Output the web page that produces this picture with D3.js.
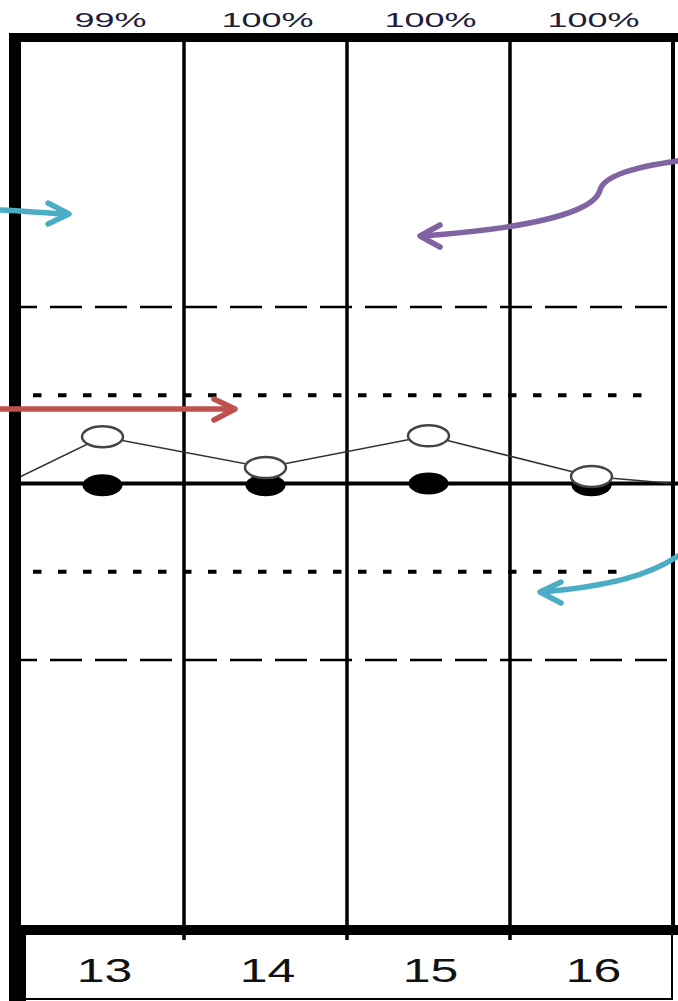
<!DOCTYPE html>
<html>
<head>
<meta charset="utf-8">
<script src="https://cdn.jsdelivr.net/npm/d3@7"></script>
<style>
  body { margin: 0; background: #fff; }
  svg { display: block; }
</style>
</head>
<body>
<svg id="chart"></svg>
<script>
// categories (12 and 17 lie just outside the visible crop)
const categories = [12, 13, 14, 15, 16, 17];
const shownCategories = [13, 14, 15, 16];
const pctLabels = ["99%", "100%", "100%", "100%"];
// values in standard-deviation units around the centre line
const openSeries = [-0.37, 0.53, 0.18, 0.54, 0.08, -0.08];
const filledSeries = [-0.02, -0.02, 0, -0.02];
const limits = [
  { v: 2, type: "dashed" }, { v: -2, type: "dashed" },
  { v: 1, type: "dotted" }, { v: -1, type: "dotted" }
];

const width = 678, height = 1001;
const plot = { left: 21, right: 673, top: 42, bottom: 925 };
const svg = d3.select("#chart").attr("width", width).attr("height", height);

const band = (plot.right - plot.left) / shownCategories.length;
const x = d3.scaleBand()
  .domain(categories)
  .range([plot.left - band, plot.right + band]);
const cx = d => x(d) + x.bandwidth() / 2;

const y = d3.scaleLinear().domain([-5, 5]).range([plot.bottom, plot.top]);

svg.append("defs").append("clipPath").attr("id", "plotClip")
  .append("rect")
  .attr("x", plot.left).attr("y", plot.top)
  .attr("width", plot.right - plot.left).attr("height", plot.bottom - plot.top);

// vertical category separators
svg.append("g")
  .selectAll("line")
  .data(shownCategories.slice(1))
  .join("line")
  .attr("x1", d => x(d)).attr("x2", d => x(d))
  .attr("y1", plot.top).attr("y2", 940)
  .attr("stroke", "#000").attr("stroke-width", 3.5);

// control / warning limits
svg.append("g")
  .selectAll("line")
  .data(limits)
  .join("line")
  .attr("x1", d => d.type === "dashed" ? plot.left : 33)
  .attr("x2", d => d.type === "dashed" ? plot.right : (d.v > 0 ? 656 : 630))
  .attr("y1", d => y(d.v)).attr("y2", d => y(d.v))
  .attr("stroke", "#000")
  .attr("stroke-width", d => d.type === "dashed" ? 2.5 : 4)
  .attr("stroke-dasharray", d => d.type === "dashed" ? "32,13" : "8.5,16.5")
  .attr("stroke-dashoffset", d => d.type === "dashed" ? 16 : 0);

// centre line
svg.append("line")
  .attr("x1", plot.left).attr("x2", width)
  .attr("y1", y(0)).attr("y2", y(0))
  .attr("stroke", "#000").attr("stroke-width", 4);

// filled series
svg.append("g")
  .selectAll("ellipse")
  .data(filledSeries)
  .join("ellipse")
  .attr("cx", (d, i) => cx(shownCategories[i]))
  .attr("cy", d => y(d))
  .attr("rx", 20).attr("ry", 11)
  .attr("fill", "#000");

// open series line
const line = d3.line()
  .x((d, i) => cx(categories[i]))
  .y(d => y(d));
svg.append("path")
  .datum(openSeries)
  .attr("clip-path", "url(#plotClip)")
  .attr("d", line)
  .attr("fill", "none")
  .attr("stroke", "#333")
  .attr("stroke-width", 1.5);

svg.append("g")
  .selectAll("ellipse")
  .data(openSeries.slice(1, 5))
  .join("ellipse")
  .attr("cx", (d, i) => cx(shownCategories[i]))
  .attr("cy", d => y(d))
  .attr("rx", 20.5).attr("ry", 10.5)
  .attr("fill", "#fff")
  .attr("stroke", "#444")
  .attr("stroke-width", 2.5);

// frame
svg.append("rect").attr("x", 9).attr("y", 33).attr("width", width - 9).attr("height", 9).attr("fill", "#000");
svg.append("rect").attr("x", 9).attr("y", 33).attr("width", 12).attr("height", height - 33).attr("fill", "#000");
svg.append("rect").attr("x", 9).attr("y", 935).attr("width", 17).attr("height", height - 935).attr("fill", "#000");
svg.append("rect").attr("x", 9).attr("y", plot.bottom).attr("width", width - 9).attr("height", 10).attr("fill", "#000");
svg.append("rect").attr("x", plot.right - 2).attr("y", plot.top).attr("width", 4).attr("height", plot.bottom - plot.top).attr("fill", "#000");
svg.append("rect").attr("x", 9).attr("y", 998).attr("width", plot.right - 9).attr("height", 2).attr("fill", "#000");
svg.append("rect").attr("x", plot.right - 2).attr("y", 935).attr("width", 2).attr("height", 65).attr("fill", "#000");

// tick labels (the source image is stretched sideways)
svg.append("g")
  .selectAll("text")
  .data(shownCategories)
  .join("text")
  .attr("transform", d => `translate(${cx(d) + 2},982) scale(1,0.67)`)
  .attr("text-anchor", "middle")
  .attr("font-family", "Liberation Sans, Arial, sans-serif")
  .attr("font-size", 50)
  .attr("fill", "#111")
  .text(d => d);

svg.append("g")
  .selectAll("text")
  .data(pctLabels)
  .join("text")
  .attr("transform", (d, i) => `translate(${cx(shownCategories[i]) + (i === 0 ? 8 : 2)},27) scale(1,0.58)`)
  .attr("text-anchor", "middle")
  .attr("font-family", "Liberation Sans, Arial, sans-serif")
  .attr("font-size", 36)
  .attr("fill", "#1e1e3c")
  .text(d => d);

// annotation arrows
const arrows = [
  { color: "#4bacc6", d: "M0,210 C25,211 45,213 67,214", tip: [69, 214], a1: [48, 203], a2: [48, 224] },
  { color: "#8064a2", d: "M678,161 C640,166 604,175 600,190 C596,206 560,226 422,236", tip: [420, 236], a1: [440, 225], a2: [440, 247] },
  { color: "#c0504d", d: "M0,409 L233,409", tip: [235, 409], a1: [214, 399], a2: [214, 420] },
  { color: "#4bacc6", d: "M678,556 C650,575 610,586 542,592", tip: [540, 592], a1: [561, 582], a2: [561, 603] }
];
const ag = svg.append("g").attr("fill", "none").attr("stroke-linecap", "round").attr("stroke-linejoin", "round");
arrows.forEach(a => {
  ag.append("path").attr("d", a.d).attr("stroke", a.color).attr("stroke-width", 5.5);
  ag.append("path")
    .attr("d", d3.line()([a.a1, a.tip, a.a2]))
    .attr("stroke", a.color).attr("stroke-width", 5.5);
});
</script>
</body>
</html>
